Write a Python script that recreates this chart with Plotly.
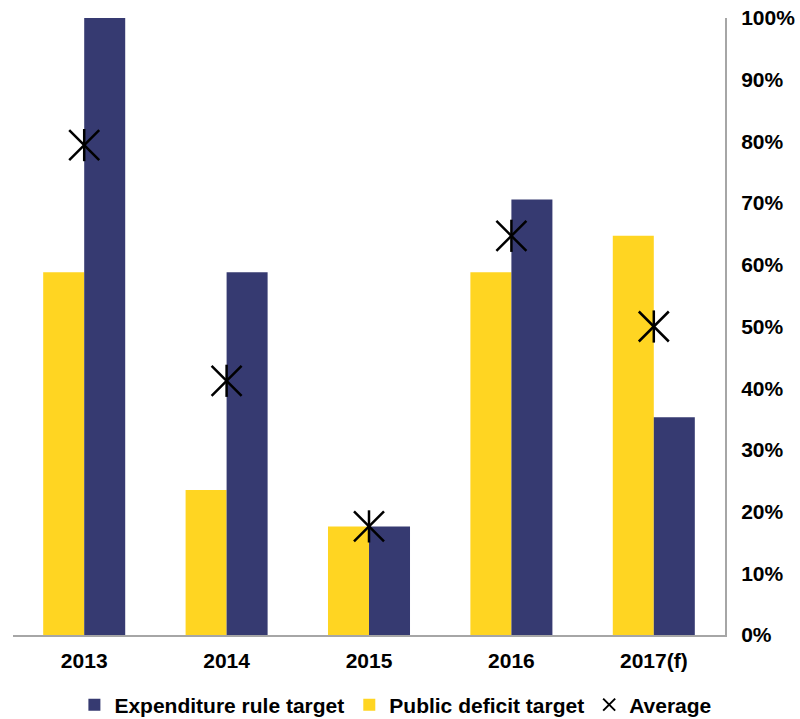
import plotly.graph_objects as go

years = ["2013", "2014", "2015", "2016", "2017(f)"]
public_deficit = [0.588, 0.235, 0.176, 0.588, 0.647]
expenditure_rule = [1.0, 0.588, 0.176, 0.706, 0.353]
average = [0.794, 0.412, 0.176, 0.647, 0.50]

FONT = "Liberation Sans, Arial, sans-serif"
BLUE = "#363A71"
YELLOW = "#FFD522"

fig = go.Figure()
fig.add_trace(go.Bar(x=years, y=public_deficit, name="Public deficit target",
                     marker=dict(color=YELLOW, line=dict(width=0)), legendrank=2))
fig.add_trace(go.Bar(x=years, y=expenditure_rule, name="Expenditure rule target",
                     marker=dict(color=BLUE, line=dict(width=0)), legendrank=1))
fig.add_trace(go.Scatter(x=years, y=average, name="Average", mode="markers",
                         marker=dict(symbol="x-thin-open", size=30, color="black",
                                     line=dict(width=2.5, color="black")),
                         legendrank=3))
fig.add_trace(go.Scatter(x=years, y=average, name="Average", mode="markers",
                         showlegend=False,
                         marker=dict(symbol="line-ns-open", size=23, color="black",
                                     line=dict(width=2.5, color="black"))))

fig.update_layout(
    width=800, height=719,
    margin=dict(l=13, r=75, t=18, b=84, autoexpand=False),
    paper_bgcolor="white", plot_bgcolor="white",
    barmode="group", bargap=0.424, bargroupgap=0,
    font=dict(family=FONT, size=21, color="black"),
    showlegend=True,
    legend=dict(orientation="h", xref="container", yref="container",
                x=0.093, xanchor="left", y=14/719, yanchor="middle",
                font=dict(family=FONT, size=21, color="black", weight="bold"),
                traceorder="normal", itemsizing="constant"),
)
fig.update_xaxes(showline=True, linecolor="#A6A6A6", linewidth=2, ticks="",
                 tickfont=dict(family=FONT, size=21, weight="bold"), showgrid=False,
                 ticklabelstandoff=6)
fig.update_yaxes(side="right", range=[0, 1.0], dtick=0.1, tickformat=".0%",
                 showline=True, linecolor="#A6A6A6", linewidth=2, ticks="",
                 showgrid=False, zeroline=False, ticklabelstandoff=10,
                 tickfont=dict(family=FONT, size=21, weight="bold"))

fig.write_html("out.html")
